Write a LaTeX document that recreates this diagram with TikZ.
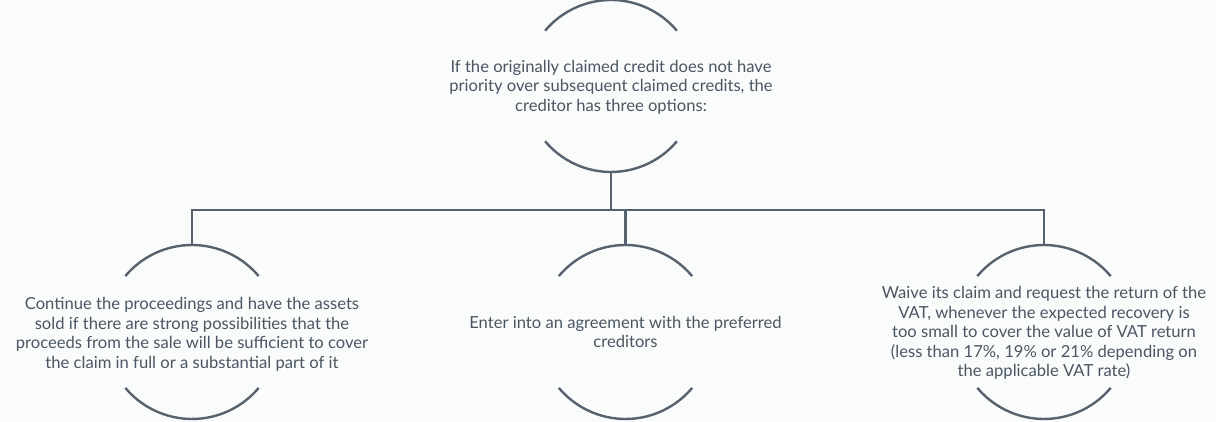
\documentclass[tikz,border=0pt]{standalone}
\usepackage{fontspec}
\setmainfont{Lato}
\definecolor{linec}{HTML}{56626D}
\definecolor{textc}{HTML}{4A5663}
\definecolor{bgc}{HTML}{FAFBFB}
\begin{document}
\begin{tikzpicture}[x=1pt,y=1pt,
  ring/.style={circle,minimum size=#1,inner sep=0pt,outer sep=0pt},
  arcline/.style={draw=linec,line width=2.4pt},
  conn/.style={draw=linec,line width=2.6pt},
  txt/.style={text=textc,align=center,inner sep=0pt,font=\fontsize{16.6}{19.6}\selectfont}]
\fill[bgc] (0,0) rectangle (1216,422);
\useasboundingbox (0,0) rectangle (1216,422);
% circles (invisible frames)
\node[ring=172pt] (c0) at (611,336) {};
\node[ring=174pt] (c1) at (192,90) {};
\node[ring=174pt] (c2) at (625.5,90) {};
\node[ring=174pt] (c3) at (1044,90) {};
% texts
\node[txt] (t0) at ([yshift=-1pt]c0.center) {If the originally claimed credit does not have\\priority over subsequent claimed credits, the\\creditor has three options:};
\node[txt] (t1) at ([yshift=-2.5pt]c1.center) {Continue the proceedings and have the assets\\sold if there are strong possibilities that the\\proceeds from the sale will be sufficient to cover\\the claim in full or a substantial part of it};
\node[txt] (t2) at (c2.center) {Enter into an agreement with the preferred\\creditors};
\node[txt] (t3) at ([yshift=-1pt]c3.center) {Waive its claim and request the return of the\\VAT, whenever the expected recovery is\\too small to cover the value of VAT return\\(less than 17\%, 19\% or 21\% depending on\\the applicable VAT rate)};
% arcs
\draw[arcline] (c0.40) arc[start angle=40,end angle=140,radius=86pt];
\draw[arcline] (c0.220) arc[start angle=220,end angle=320,radius=86pt];
\foreach \n in {c1,c2,c3}{
  \draw[arcline] (\n.40) arc[start angle=40,end angle=140,radius=87pt];
  \draw[arcline] (\n.220) arc[start angle=220,end angle=320,radius=87pt];
}
% connectors
\draw[conn] (c0.south) -- (c0.south |- 0,212) coordinate (j);
\draw[conn] (c1.north) -- (c1.north |- j) -- (c3.north |- j) -- (c3.north);
\draw[conn] (c2.north) -- (c2.north |- j);
\end{tikzpicture}
\end{document}
